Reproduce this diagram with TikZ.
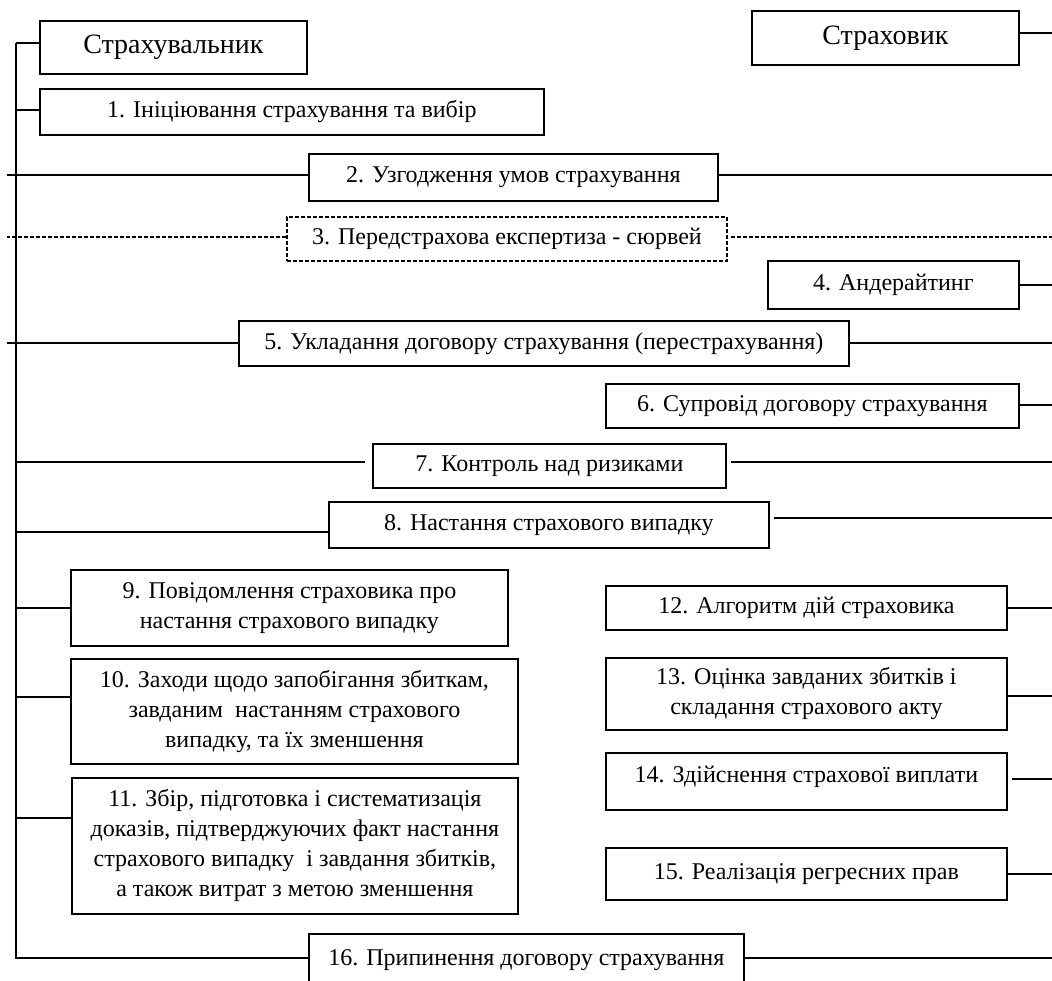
\documentclass[tikz,border=0pt]{standalone}
\usepackage{fontspec}
\setmainfont{Liberation Serif}
\usetikzlibrary{calc}

\tikzset{
  box/.style={draw, line width=1.8pt, inner sep=0pt, anchor=north west, align=center,
    font=\fontsize{24}{30}\selectfont},
  headbox/.style={box, font=\fontsize{28}{34}\selectfont},
  link/.style={line width=1.8pt},
  dlink/.style={line width=1.4pt, dash pattern=on 4pt off 2pt}
}

\begin{document}
\begin{tikzpicture}[x=1pt,y=-1pt]
\useasboundingbox (0,0) rectangle (1052,981);
\clip (0,0) rectangle (1052,981);

\coordinate (stub) at (7,0);
\coordinate (trunk) at (16,0);
\coordinate (redge) at (1052,0);

% participants
\node[headbox, minimum width=267pt, minimum height=53pt] (s1) at (39,20) {Страхувальник};
\node[headbox, minimum width=267pt, minimum height=54pt] (s2) at (751,10) {Страховик};

% stages
\node[box, minimum width=504pt, minimum height=46pt] (b1) at (39,88) {1. Ініціювання страхування та вибір};
\node[box, minimum width=409pt, minimum height=47pt] (b2) at (308,153) {2. Узгодження умов страхування};
\node[box, dlink, line width=1.8pt, minimum width=440pt, minimum height=44pt] (b3) at (286,216) {3. Передстрахова експертиза - сюрвей};
\node[box, minimum width=251pt, minimum height=48pt] (b4) at (767,260) {4. Андерайтинг};
\node[box, minimum width=610pt, minimum height=45pt] (b5) at (238,320) {5. Укладання договору страхування (перестрахування)};
\node[box, minimum width=413pt, minimum height=44pt] (b6) at (605,383) {6. Супровід договору страхування};
\node[box, minimum width=353pt, minimum height=44pt] (b7) at (372,443) {7. Контроль над ризиками};
\node[box, minimum width=440pt, minimum height=46pt] (b8) at (328,501) {8. Настання страхового випадку};
\node[box, minimum width=437pt, minimum height=76pt] (b9) at (70,569) {9. Повідомлення страховика про\\настання страхового випадку};
\node[box, minimum width=447pt, minimum height=105pt] (b10) at (70,658) {10. Заходи щодо запобігання збиткам,\\завданим\ \ настанням страхового\\випадку, та їх зменшення};
\node[box, minimum width=446pt, minimum height=136pt] (b11) at (71,777) {11. Збір, підготовка і систематизація\\доказів, підтверджуючих факт настання\\страхового випадку\ \ і завдання збитків,\\а також витрат з метою зменшення};
\node[box, minimum width=401pt, minimum height=44pt] (b12) at (605,585) {12. Алгоритм дій страховика};
\node[box, minimum width=401pt, minimum height=72pt] (b13) at (605,657) {13. Оцінка завданих збитків і\\складання страхового акту};
\node[box, minimum width=401pt, minimum height=57pt, text depth=15pt] (b14) at (605,752) {14. Здійснення страхової виплати};
\node[box, minimum width=401pt, minimum height=52pt] (b15) at (605,847) {15. Реалізація регресних прав};
\node[box, minimum width=435pt, minimum height=52pt] (b16) at (308,933) {16. Припинення договору страхування};

% left side
\foreach \n/\f in {s1/.415, b1/.457, b2/.447, b3/.455, b5/.489, b7/.41, b8/.652, b9/.5, b10/.362, b11/.30, b16/.46}
  \coordinate (l\n) at ($(\n.north west)!\f!(\n.south west)$);
\draw[link] (lb16) -- (lb16 -| trunk) -- (ls1 -| trunk);
\foreach \n in {s1, b1, b8, b9, b10, b11}
  \draw[link] (l\n) -- (l\n -| trunk);
\foreach \n in {b2, b5}
  \draw[link] (l\n) -- (l\n -| stub);
\draw[dlink] (lb3) -- (lb3 -| stub);
\draw[link, shorten <=7pt] (lb7) -- (lb7 -| trunk);

% right side
\foreach \n/\f in {s2/.407, b2/.447, b3/.455, b4/.5, b5/.489, b6/.477, b7/.41, b8/.348, b12/.5, b13/.528, b14/.456, b15/.5, b16/.46}
  \coordinate (r\n) at ($(\n.north east)!\f!(\n.south east)$);
\foreach \n in {s2, b2, b4, b5, b6, b12, b13, b15, b16}
  \draw[link] (r\n) -- (r\n -| redge);
\draw[dlink, shorten <=3pt] (rb3) -- (rb3 -| redge);
\foreach \n in {b7, b8, b14}
  \draw[link, shorten <=4pt] (r\n) -- (r\n -| redge);
\end{tikzpicture}
\end{document}
